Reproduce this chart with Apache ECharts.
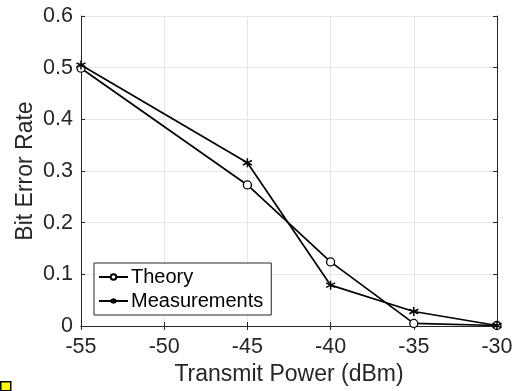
<!DOCTYPE html>
<html>
<head>
<meta charset="utf-8">
<script src="https://cdn.jsdelivr.net/npm/echarts@6/dist/echarts.min.js"></script>
<style>
  html, body { margin: 0; padding: 0; background: #fff; }
  #chart { width: 516px; height: 391px; }
</style>
</head>
<body>
<div id="chart"></div>
<script>
// transmit power (dBm)
const powerLevels = [-55, -45, -40, -35, -30];
// bit error rate
const theoryBer = [0.499, 0.273, 0.124, 0.005, 0.001];
const measuredBer = [0.505, 0.316, 0.079, 0.028, 0.001];

const txtColor = "#262626";
const asterisk = "path://M0,-10L0,10M-8.66,-5L8.66,5M-8.66,5L8.66,-5";

function pairs(xs, ys) {
  return xs.map((x, i) => [x, ys[i]]);
}

let myChart = echarts.init(document.getElementById("chart"));
let option = {
  animation: false,
  grid: { left: 81, right: 19, top: 16, bottom: 64 },
  legend: {
    orient: "vertical",
    left: 94,
    top: 263,
    padding: [4, 8, 4, 4],
    itemGap: 4,
    itemWidth: 29,
    itemHeight: 7,
    borderColor: "#262626",
    borderWidth: 1,
    borderRadius: 0,
    backgroundColor: "#fff",
    textStyle: { fontFamily: "Liberation Sans", fontSize: 20, color: "#000", padding: [0, 0, 0, -2] },
    data: ["Theory", "Measurements"]
  },
  xAxis: [
    {
      type: "value",
      min: -55,
      max: -30,
      interval: 5,
      name: "Transmit Power (dBm)",
      nameLocation: "middle",
      nameGap: 37,
      nameMoveOverlap: false,
      nameTextStyle: { fontFamily: "Liberation Sans", fontSize: 23, color: txtColor },
      axisLine: { show: true, lineStyle: { color: txtColor, width: 1 } },
      axisTick: { show: true, inside: true, length: 4, lineStyle: { color: txtColor } },
      axisLabel: { fontFamily: "Liberation Sans", fontSize: 21.5, color: txtColor, margin: 10 },
      splitLine: { show: true, lineStyle: { color: "#e6e6e6" } }
    },
    {
      type: "value",
      position: "top",
      min: -55,
      max: -30,
      interval: 5,
      axisLine: { show: true, lineStyle: { color: txtColor, width: 1 } },
      axisTick: { show: true, inside: true, length: 4, lineStyle: { color: txtColor } },
      axisLabel: { show: false },
      splitLine: { show: false }
    }
  ],
  yAxis: [
    {
      type: "value",
      min: 0,
      max: 0.6,
      interval: 0.1,
      name: "Bit Error Rate",
      nameLocation: "middle",
      nameGap: 44,
      nameMoveOverlap: false,
      nameTextStyle: { fontFamily: "Liberation Sans", fontSize: 23, color: txtColor },
      axisLine: { show: true, lineStyle: { color: txtColor, width: 1 } },
      axisTick: { show: true, inside: true, length: 4, lineStyle: { color: txtColor } },
      axisLabel: {
        fontFamily: "Liberation Sans",
        fontSize: 21.5,
        color: txtColor,
        margin: 8,
        formatter: v => (v === 0 ? "0" : v.toFixed(1))
      },
      splitLine: { show: true, lineStyle: { color: "#e6e6e6" } }
    },
    {
      type: "value",
      position: "right",
      min: 0,
      max: 0.6,
      interval: 0.1,
      axisLine: { show: true, lineStyle: { color: txtColor, width: 1 } },
      axisTick: { show: true, inside: true, length: 4, lineStyle: { color: txtColor } },
      axisLabel: { show: false },
      splitLine: { show: false }
    }
  ],
  series: [
    {
      name: "Theory",
      type: "line",
      data: pairs(powerLevels, theoryBer),
      symbol: "circle",
      symbolSize: 8,
      showAllSymbol: true,
      lineStyle: { color: "#000", width: 1.7 },
      itemStyle: { color: "#fff", borderColor: "#000", borderWidth: 1.3 },
      z: 3
    },
    {
      name: "Measurements",
      type: "line",
      data: pairs(powerLevels, measuredBer),
      symbol: asterisk,
      symbolSize: 9,
      showAllSymbol: true,
      lineStyle: { color: "#000", width: 1.7 },
      itemStyle: { color: "#000", borderColor: "#000", borderWidth: 1.5 },
      z: 4
    }
  ],
  graphic: [
    {
      type: "rect",
      left: 0,
      top: 381,
      shape: { width: 10, height: 9 },
      style: { fill: "#ffff00", stroke: "#000", lineWidth: 1.5 }
    }
  ]
};
myChart.setOption(option);
</script>
</body>
</html>
